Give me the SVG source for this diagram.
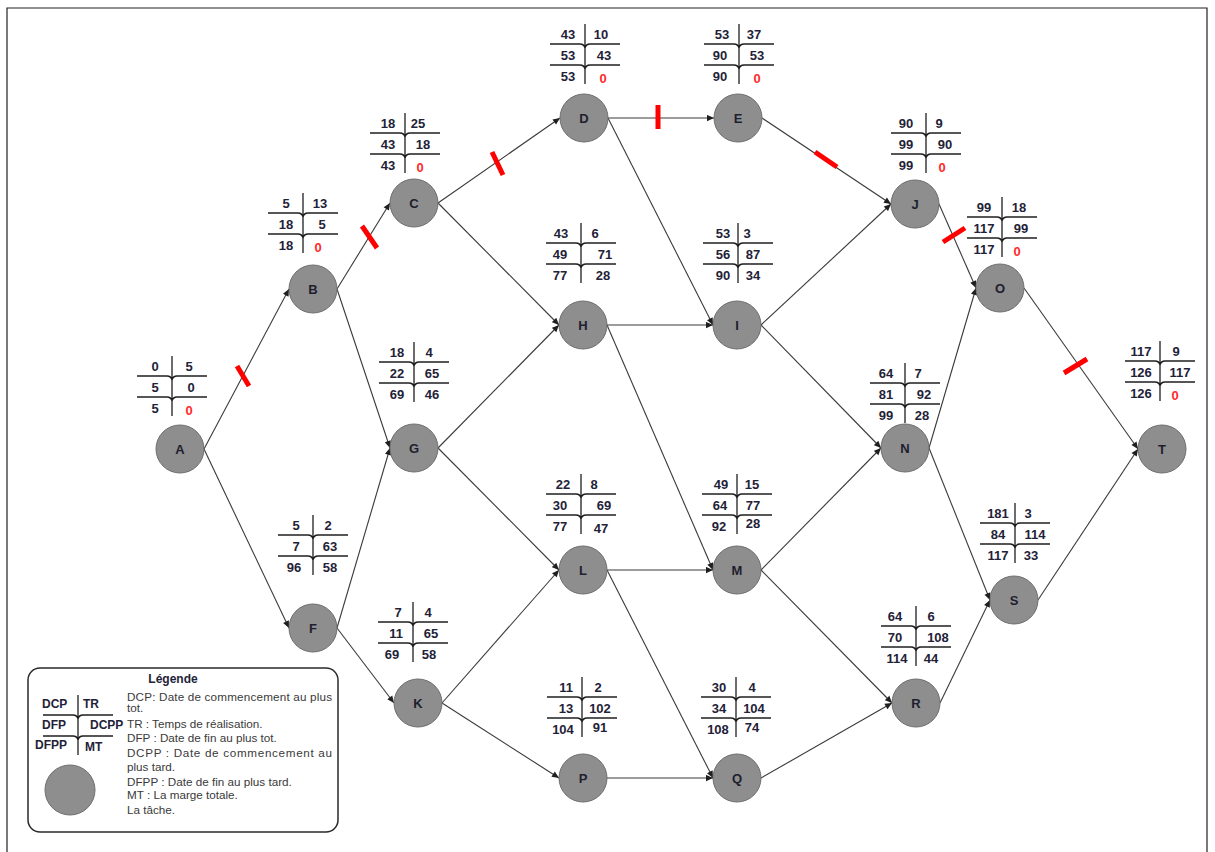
<svg xmlns="http://www.w3.org/2000/svg" xmlns:xlink="http://www.w3.org/1999/xlink" width="1215" height="852" viewBox="0 0 1215 852">
<style>
.nd{fill:#8e8e8e;stroke:#6e6e6e;stroke-width:1}
.nl{font-family:"Liberation Sans",Arial,sans-serif;font-weight:bold;font-size:13px;fill:#1e1e2e;text-anchor:middle}
.v{font-family:"Liberation Sans",Arial,sans-serif;font-weight:bold;font-size:13px;fill:#1f2238;text-anchor:middle}
.rv{font-family:"Liberation Sans",Arial,sans-serif;font-weight:bold;font-size:13px;fill:#ff2a2a;text-anchor:middle}
.bl{fill:none;stroke:#1f1f1f;stroke-width:1.3}
.e{fill:none;stroke:#3a3a3a;stroke-width:1.1;marker-end:url(#ah)}
.cr{stroke:#ff0000;stroke-width:5;stroke-linecap:butt}
.lg{font-family:"Liberation Sans",Arial,sans-serif;font-size:11.7px;fill:#3a3a3a}
.lb{font-family:"Liberation Sans",Arial,sans-serif;font-weight:bold;font-size:12px;fill:#1f2238}
</style>
<defs>
<marker id="ah" viewBox="0 0 10 10" refX="10" refY="5" markerWidth="8" markerHeight="7" markerUnits="userSpaceOnUse" orient="auto">
<path d="M0,0.5 L10,5 L0,9.5 z" fill="#1f1f1f"/>
</marker>
<path id="bx" class="bl" d="M0,0 V60 M-35,20 H-5 Q-1,20 0,24 M35,20 H5 Q1,20 0,24 M-35,41 H-5 Q-1,41 0,45 M35,41 H5 Q1,41 0,45"/>
</defs>
<rect x="0" y="0" width="1215" height="852" fill="#ffffff"/>
<path d="M7,852 V8 H1207 V852" fill="none" stroke="#222" stroke-width="1.2"/>

<g id="connectors">
<path class="e" d="M204,449 L289,289"/>
<path class="e" d="M204,449 L289,628"/>
<path class="e" d="M337,289 L390,203"/>
<path class="e" d="M337,289 L390,448"/>
<path class="e" d="M438,203 L560,118"/>
<path class="e" d="M438,203 L559,325"/>
<path class="e" d="M608,118 L714,118"/>
<path class="e" d="M608,118 L713,325"/>
<path class="e" d="M762,118 L891,204"/>
<path class="e" d="M337,628 L390,448"/>
<path class="e" d="M337,628 L394,703"/>
<path class="e" d="M438,448 L559,325"/>
<path class="e" d="M438,448 L559,570"/>
<path class="e" d="M607,325 L713,325"/>
<path class="e" d="M607,325 L713,570"/>
<path class="e" d="M761,325 L891,204"/>
<path class="e" d="M761,325 L881,448"/>
<path class="e" d="M939,204 L976,288"/>
<path class="e" d="M442,703 L559,570"/>
<path class="e" d="M442,703 L559,778"/>
<path class="e" d="M607,570 L713,570"/>
<path class="e" d="M607,570 L713,778"/>
<path class="e" d="M761,570 L881,448"/>
<path class="e" d="M761,570 L892,703"/>
<path class="e" d="M929,448 L976,288"/>
<path class="e" d="M929,448 L990,600"/>
<path class="e" d="M1024,288 L1138,449"/>
<path class="e" d="M607,778 L713,778"/>
<path class="e" d="M761,778 L892,703"/>
<path class="e" d="M940,703 L990,600"/>
<path class="e" d="M1038,600 L1138,449"/>
<g id="critical-marks">
<line class="cr" x1="237" y1="366" x2="249" y2="386"/>
<line class="cr" x1="362" y1="226" x2="377" y2="248"/>
<line class="cr" x1="492" y1="152" x2="503" y2="175"/>
<line class="cr" x1="658" y1="105" x2="658" y2="129"/>
<line class="cr" x1="815" y1="152" x2="837" y2="167"/>
<line class="cr" x1="943" y1="242" x2="965" y2="228"/>
<line class="cr" x1="1064" y1="373" x2="1087" y2="359"/>
</g>
</g>

<g id="A"><circle class="nd" cx="180" cy="449" r="24"/><text class="nl" x="180" y="454">A</text>
<use xlink:href="#bx" x="172" y="356"/><text class="v" x="155" y="371">0</text><text class="v" x="189" y="371">5</text><text class="v" x="155" y="392">5</text><text class="v" x="191" y="392">0</text><text class="v" x="155" y="413">5</text><text class="rv" x="189" y="415">0</text></g>

<g id="B"><circle class="nd" cx="313" cy="289" r="24"/><text class="nl" x="313" y="294">B</text>
<use xlink:href="#bx" x="303" y="193"/><text class="v" x="286" y="208">5</text><text class="v" x="320" y="208">13</text><text class="v" x="286" y="229">18</text><text class="v" x="322" y="229">5</text><text class="v" x="286" y="250">18</text><text class="rv" x="318" y="252">0</text></g>

<g id="C"><circle class="nd" cx="414" cy="203" r="24"/><text class="nl" x="414" y="208">C</text>
<use xlink:href="#bx" x="405" y="113"/><text class="v" x="388" y="128">18</text><text class="v" x="418" y="128">25</text><text class="v" x="388" y="149">43</text><text class="v" x="423" y="149">18</text><text class="v" x="388" y="170">43</text><text class="rv" x="420" y="172">0</text></g>

<g id="D"><circle class="nd" cx="584" cy="118" r="24"/><text class="nl" x="584" y="123">D</text>
<use xlink:href="#bx" x="585" y="24"/><text class="v" x="568" y="39">43</text><text class="v" x="601" y="39">10</text><text class="v" x="568" y="60">53</text><text class="v" x="604" y="60">43</text><text class="v" x="568" y="81">53</text><text class="rv" x="603" y="83">0</text></g>

<g id="E"><circle class="nd" cx="738" cy="118" r="24"/><text class="nl" x="738" y="123">E</text>
<use xlink:href="#bx" x="739" y="24"/><text class="v" x="722" y="39">53</text><text class="v" x="754" y="39">37</text><text class="v" x="720" y="60">90</text><text class="v" x="757" y="60">53</text><text class="v" x="720" y="81">90</text><text class="rv" x="757" y="83">0</text></g>

<g id="F"><circle class="nd" cx="313" cy="628" r="24"/><text class="nl" x="313" y="633">F</text>
<use xlink:href="#bx" x="313" y="515"/><text class="v" x="296" y="530">5</text><text class="v" x="328" y="530">2</text><text class="v" x="296" y="551">7</text><text class="v" x="330" y="551">63</text><text class="v" x="294" y="572">96</text><text class="v" x="330" y="572">58</text></g>

<g id="G"><circle class="nd" cx="414" cy="448" r="24"/><text class="nl" x="414" y="453">G</text>
<use xlink:href="#bx" x="414" y="342"/><text class="v" x="397" y="357">18</text><text class="v" x="429" y="357">4</text><text class="v" x="397" y="378">22</text><text class="v" x="432" y="378">65</text><text class="v" x="397" y="399">69</text><text class="v" x="432" y="399">46</text></g>

<g id="H"><circle class="nd" cx="583" cy="325" r="24"/><text class="nl" x="583" y="330">H</text>
<use xlink:href="#bx" x="581" y="223"/><text class="v" x="561" y="238">43</text><text class="v" x="595" y="238">6</text><text class="v" x="560" y="259">49</text><text class="v" x="605" y="259">71</text><text class="v" x="560" y="280">77</text><text class="v" x="603" y="280">28</text></g>

<g id="I"><circle class="nd" cx="737" cy="325" r="24"/><text class="nl" x="737" y="330">I</text>
<use xlink:href="#bx" x="738" y="223"/><text class="v" x="723" y="238">53</text><text class="v" x="747" y="238">3</text><text class="v" x="723" y="259">56</text><text class="v" x="753" y="259">87</text><text class="v" x="723" y="280">90</text><text class="v" x="753" y="280">34</text></g>

<g id="J"><circle class="nd" cx="915" cy="204" r="24"/><text class="nl" x="915" y="209">J</text>
<use xlink:href="#bx" x="926" y="113"/><text class="v" x="906" y="128">90</text><text class="v" x="939" y="128">9</text><text class="v" x="906" y="149">99</text><text class="v" x="945" y="149">90</text><text class="v" x="906" y="170">99</text><text class="rv" x="942" y="172">0</text></g>

<g id="K"><circle class="nd" cx="418" cy="703" r="24"/><text class="nl" x="418" y="708">K</text>
<use xlink:href="#bx" x="413" y="602"/><text class="v" x="398" y="617">7</text><text class="v" x="428" y="617">4</text><text class="v" x="396" y="638">11</text><text class="v" x="431" y="638">65</text><text class="v" x="392" y="659">69</text><text class="v" x="429" y="659">58</text></g>

<g id="L"><circle class="nd" cx="583" cy="570" r="24"/><text class="nl" x="583" y="575">L</text>
<use xlink:href="#bx" x="581" y="474"/><text class="v" x="563" y="489">22</text><text class="v" x="594" y="489">8</text><text class="v" x="560" y="510">30</text><text class="v" x="604" y="510">69</text><text class="v" x="560" y="531">77</text><text class="v" x="601" y="533">47</text></g>

<g id="M"><circle class="nd" cx="737" cy="570" r="24"/><text class="nl" x="737" y="575">M</text>
<use xlink:href="#bx" x="737" y="474"/><text class="v" x="721" y="489">49</text><text class="v" x="752" y="489">15</text><text class="v" x="720" y="510">64</text><text class="v" x="753" y="510">77</text><text class="v" x="719" y="531">92</text><text class="v" x="753" y="528">28</text></g>

<g id="N"><circle class="nd" cx="905" cy="448" r="24"/><text class="nl" x="905" y="453">N</text>
<use xlink:href="#bx" x="905" y="363"/><text class="v" x="886" y="378">64</text><text class="v" x="918" y="378">7</text><text class="v" x="886" y="399">81</text><text class="v" x="924" y="399">92</text><text class="v" x="886" y="420">99</text><text class="v" x="922" y="420">28</text></g>

<g id="O"><circle class="nd" cx="1000" cy="288" r="24"/><text class="nl" x="1000" y="293">O</text>
<use xlink:href="#bx" x="1002" y="197"/><text class="v" x="984" y="212">99</text><text class="v" x="1019" y="212">18</text><text class="v" x="984" y="233">117</text><text class="v" x="1021" y="233">99</text><text class="v" x="984" y="254">117</text><text class="rv" x="1017" y="256">0</text></g>

<g id="P"><circle class="nd" cx="583" cy="778" r="24"/><text class="nl" x="583" y="783">P</text>
<use xlink:href="#bx" x="582" y="677"/><text class="v" x="566" y="692">11</text><text class="v" x="598" y="692">2</text><text class="v" x="566" y="713">13</text><text class="v" x="600" y="713">102</text><text class="v" x="563" y="734">104</text><text class="v" x="600" y="732">91</text></g>

<g id="Q"><circle class="nd" cx="737" cy="778" r="24"/><text class="nl" x="737" y="783">Q</text>
<use xlink:href="#bx" x="736" y="677"/><text class="v" x="719" y="692">30</text><text class="v" x="752" y="692">4</text><text class="v" x="719" y="713">34</text><text class="v" x="754" y="713">104</text><text class="v" x="718" y="734">108</text><text class="v" x="752" y="732">74</text></g>

<g id="R"><circle class="nd" cx="916" cy="703" r="24"/><text class="nl" x="916" y="708">R</text>
<use xlink:href="#bx" x="916" y="606"/><text class="v" x="895" y="621">64</text><text class="v" x="931" y="621">6</text><text class="v" x="895" y="642">70</text><text class="v" x="938" y="642">108</text><text class="v" x="897" y="663">114</text><text class="v" x="931" y="663">44</text></g>

<g id="S"><circle class="nd" cx="1014" cy="600" r="24"/><text class="nl" x="1014" y="605">S</text>
<use xlink:href="#bx" x="1015" y="503"/><text class="v" x="998" y="518">181</text><text class="v" x="1028" y="518">3</text><text class="v" x="998" y="539">84</text><text class="v" x="1035" y="539">114</text><text class="v" x="998" y="560">117</text><text class="v" x="1031" y="560">33</text></g>

<g id="T"><circle class="nd" cx="1162" cy="449" r="24"/><text class="nl" x="1162" y="454">T</text>
<use xlink:href="#bx" x="1160" y="341"/><text class="v" x="1141" y="356">117</text><text class="v" x="1176" y="356">9</text><text class="v" x="1141" y="377">126</text><text class="v" x="1180" y="377">117</text><text class="v" x="1141" y="398">126</text><text class="rv" x="1175" y="400">0</text></g>

<g id="legend">
<rect x="28" y="668" width="310" height="164" rx="12" ry="12" fill="#ffffff" stroke="#2a2a2a" stroke-width="1.5"/>
<text class="lb" x="173" y="683" text-anchor="middle">Légende</text>
<use xlink:href="#bx" x="78" y="695"/>
<text class="lb" x="42" y="708">DCP</text><text class="lb" x="83" y="708">TR</text>
<text class="lb" x="42" y="729">DFP</text><text class="lb" x="90" y="729">DCPP</text>
<text class="lb" x="35" y="749">DFPP</text><text class="lb" x="85" y="751">MT</text>
<circle class="nd" cx="70" cy="790" r="25"/>
<text class="lg" x="127" y="701" textLength="205" lengthAdjust="spacing">DCP: Date de commencement au plus</text>
<text class="lg" x="127" y="712">tot.</text>
<text class="lg" x="127" y="728">TR : Temps de réalisation.</text>
<text class="lg" x="127" y="742">DFP : Date de fin au plus tot.</text>
<text class="lg" x="127" y="757" textLength="205" lengthAdjust="spacing">DCPP : Date de commencement au</text>
<text class="lg" x="127" y="771">plus tard.</text>
<text class="lg" x="127" y="786">DFPP : Date de fin au plus tard.</text>
<text class="lg" x="127" y="799">MT : La marge totale.</text>
<text class="lg" x="127" y="814">La tâche.</text>
</g>
</svg>
